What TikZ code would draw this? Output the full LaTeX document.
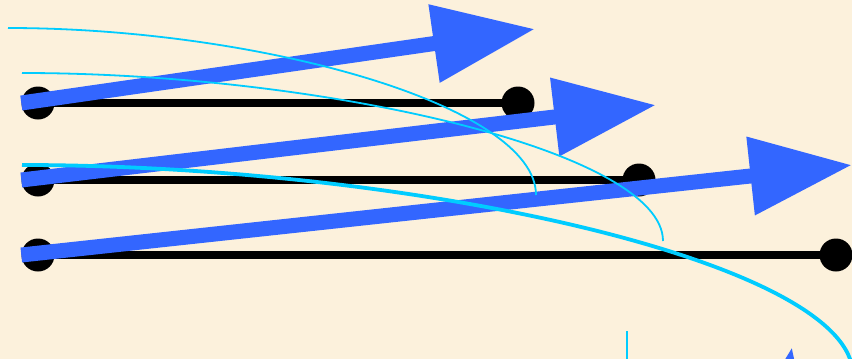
\documentclass[tikz,border=0pt]{standalone}
\usetikzlibrary{arrows.meta}
\definecolor{paper}{RGB}{252,241,220}
\definecolor{vecblue}{RGB}{51,102,255}
\definecolor{curvecyan}{RGB}{0,204,255}

\begin{document}
\begin{tikzpicture}[
    x=1pt, y=-1pt,
    dot/.style={circle, fill=black, inner sep=0pt, minimum size=33pt},
    rod/.style={line width=8pt},
    vec/.style={-{Triangle[length=102pt,width=75pt]}, line width=15pt, draw=vecblue},
    orbit/.style={draw=curvecyan, line width=1.8pt},
    thickorbit/.style={orbit, line width=3.8pt},
]

% ---------- Background ----------
\fill[paper] (0,0) rectangle (852,359);
\useasboundingbox (0,0) rectangle (852,359);
\clip (0,0) rectangle (852,359);

% ---------- Rods ----------
\node[dot] (rodA-left)  at (38,103)  {};
\node[dot] (rodA-right) at (518,103) {};
\node[dot] (rodB-left)  at (38,180)  {};
\node[dot] (rodB-right) at (639,180) {};
\node[dot] (rodC-left)  at (38,255)  {};
\node[dot] (rodC-right) at (836,255) {};

\draw[rod] (rodA-left.center) -- (rodA-right.center);
\draw[rod] (rodB-left.center) -- (rodB-right.center);
\draw[rod] (rodC-left.center) -- (rodC-right.center);

% ---------- Vectors ----------
\coordinate (tipA) at (535,29);
\coordinate (tipB) at (656,105);
\coordinate (tipC) at (852,165);
\coordinate (tipD) at (792,347);
\coordinate (tailD) at (759,544);

\draw[vec] (rodA-left.west) -- (tipA);
\draw[vec] (rodB-left.west) -- (tipB);
\draw[vec] (rodC-left.west) -- (tipC);
\draw[vec] (tailD) -- (tipD);

% ---------- Curves ----------
\draw[orbit] (8,28) .. controls (258,28) and (536,105) .. (536,195);
\draw[orbit] (22,73) .. controls (322,73) and (663,151) .. (663,241);
\draw[thickorbit] (22,165) .. controls (412,165) and (853,262) .. (853,375);

\coordinate (stubtop) at (627,331);
\coordinate (stubbottom) at (627,380);
\draw[orbit, line width=1.5pt] (stubtop) -- (stubbottom);

\end{tikzpicture}
\end{document}
